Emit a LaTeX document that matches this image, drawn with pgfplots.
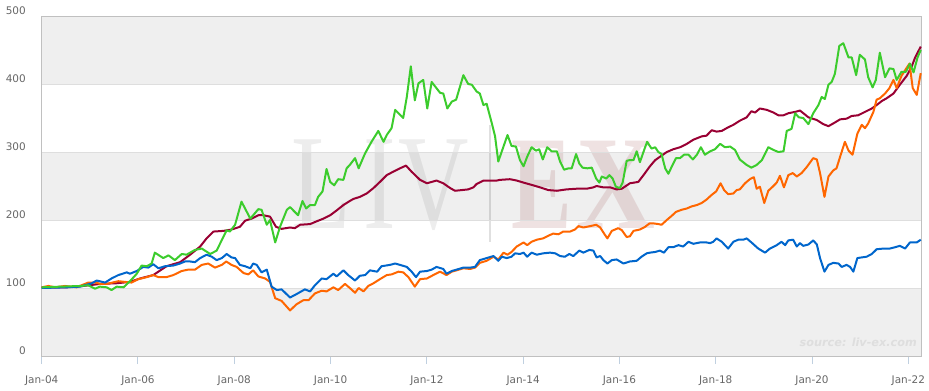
\documentclass[border=0pt]{standalone}
\usepackage{fontspec}
\setmainfont{DejaVu Sans}
\newfontfamily\wmfont{Liberation Serif}
\usepackage{pgfplots}
\pgfplotsset{compat=1.18}
\definecolor{cgreen}{RGB}{60,204,45}
\definecolor{cmaroon}{RGB}{153,0,51}
\definecolor{corange}{RGB}{255,102,0}
\definecolor{cblue}{RGB}{0,102,204}
\definecolor{band}{RGB}{239,239,239}
\definecolor{gridc}{RGB}{222,222,222}
\definecolor{axisc}{RGB}{192,192,192}
\definecolor{tickc}{RGB}{192,208,224}
\definecolor{labc}{RGB}{102,102,102}
\definecolor{wmred}{RGB}{150,60,60}
\begin{document}
\begin{tikzpicture}
\begin{scope}[x=1bp,y=1bp]
\path[use as bounding box] (-41.7,-34) rectangle (887.3,356);
\fill[band] (0,0) rectangle (880,68);
\fill[band] (0,136) rectangle (880,204);
\fill[band] (0,272) rectangle (880,340);
% watermark
\node[anchor=base west, inner sep=0pt, xscale=0.72, text=black, text opacity=0.07] at (250,128) {\fontsize{136}{136}\wmfont L};
\node[anchor=base west, inner sep=0pt, xscale=0.72, text=black, text opacity=0.07] at (322,128) {\fontsize{136}{136}\wmfont I};
\node[anchor=base west, inner sep=0pt, xscale=0.72, text=black, text opacity=0.07] at (357,128) {\fontsize{136}{136}\wmfont V};
\draw[black, opacity=0.12, line width=1.5] (448.3,231) -- (448.3,114);
\node[anchor=base west, inner sep=0pt, xscale=0.68, text=wmred, text opacity=0.15] at (470,128) {\fontsize{134}{134}\wmfont\bfseries E};
\node[anchor=base west, inner sep=0pt, xscale=0.82, text=wmred, text opacity=0.15] at (535,128) {\fontsize{134}{134}\wmfont\bfseries X};
\node[anchor=base east, inner sep=0pt, text={rgb,255:red,222;green,222;blue,222}] at (875.3,9.5) {\fontsize{11.3}{13}\selectfont\bfseries\itshape source: liv-ex.com};
\end{scope}
\begin{axis}[
  at={(0,0)}, anchor=south west,
  scale only axis, width=880bp, height=340bp,
  xmin=0, xmax=219.34, ymin=0, ymax=500,
  xtick={0,24,...,216},
  xticklabels={Jan-04,Jan-06,Jan-08,Jan-10,Jan-12,Jan-14,Jan-16,Jan-18,Jan-20,Jan-22},
  ytick={0,100,...,500},
  ymajorgrids, grid style={gridc, line width=1bp},
  axis line style={axisc, line width=1bp},
  xtick pos=bottom, xtick align=outside, major tick length=8bp,
  xtick style={tickc, line width=1bp},
  ytick style={draw=none},
  xticklabel style={font=\fontsize{10.5}{12}\selectfont, text=labc, anchor=base, inner sep=0pt, yshift=-19bp},
  yticklabel style={font=\fontsize{10.5}{12}\selectfont, text=labc, anchor=base east, inner sep=0pt, xshift=-15.7bp, yshift=1.5bp},
  /pgf/number format/assume math mode=true,
  clip=false,
]
\addplot[cmaroon, line width=2bp, line join=round] coordinates {
(0,101)(6.2,101)(10.4,103)(14.5,106)(18.7,107)(22.0,109)(24.5,114)(27.8,119)(31.1,132)(34.5,138)
(37.0,149)(39.5,161)(41.1,173)(42.8,183)(45.3,184)(47.3,186)(49.4,190)(50.7,199)(52.3,202)(54.0,207)(55.2,207)(56.9,205)(58.4,190)(59.8,187)(61.9,189)(63.1,188)(64.4,193)(66.9,194)(68.5,198)(70.2,202)(71.9,207)(73.5,214)(75.2,222)(76.8,228)
(77.7,231)(79.3,234)(81.0,239)(82.7,247)(84.3,256)(86.0,266)(87.6,271)(89.3,276)(90.8,280)(92.2,271)(94.3,259)(96.0,254)(97.2,256)(98.4,258)(100.1,254)(101.8,247)(103.0,243)(104.7,244)(106.3,245)(107.6,248)(108.4,253)(110.1,258)(113.4,258)
(114.2,259)(116.7,260)(118.4,258)(120.1,255)(122.5,251)(124.2,248)(126.3,244)(128.4,243)(130.8,245)(133.3,246)(135.8,246)(137.5,248)(138.3,250)(140.0,248)(141.7,248)(143.3,245)(144.6,246)(146.6,254)(148.7,256)(150.0,266)(151.6,279)
(152.9,288)(154.1,293)(155.8,300)(157.4,304)(159.1,307)(160.8,312)(162.4,318)(164.5,323)(165.7,324)(167.0,332)(168.2,330)(169.5,331)(170.7,335)(172.4,340)(174.0,346)(175.7,351)(176.9,360)(177.8,358)(179.0,364)(180.7,362)(182.4,358)(183.6,354)(184.9,354)(186.1,357)(187.8,359)(189.0,361)
(191.1,351)(193.2,347)(194.8,341)(196.1,338)(197.3,342)(199.0,348)(200.6,349)(201.9,353)(203.5,354)(205.2,359)(206.9,364)(208.1,369)(209.4,375)(210.6,379)(212.3,386)(213.9,399)(215.6,412)(216.8,425)(217.7,439)(219.1,455)
};
\addplot[corange, line width=2bp, line join=round] coordinates {
(0,101)(1.7,103)(3.3,101)(5.8,103)(8.7,101)(11.6,108)(13.7,108)(14.5,106)(16.2,106)(19.1,110)(22.4,108)(24.1,113)(26.2,116)(27.8,119)(29.1,116)(31.1,116)(32.8,119)(34.9,125)(36.5,127)
(38.2,127)(39.9,134)(41.5,136)(43.2,130)(44.9,134)(46.0,139)(47.3,134)(48.6,131)(50.3,122)(51.5,120)(52.7,126)(54.0,117)(55.7,114)(56.9,109)(58.2,85)(59.8,81)(61.9,67)(63.5,76)(65.2,82)(66.5,82)(68.1,92)(69.8,96)(71.0,95)(72.7,101)(73.9,97)(75.6,106)(76.8,100)
(78.1,93)(79.0,100)(80.2,95)(81.4,103)(82.7,107)(84.3,113)(86.0,119)(87.2,120)(88.9,124)(90.1,123)(91.4,116)(93.0,102)(94.3,113)(96.0,114)(97.6,119)(99.3,124)(100.9,119)(102.2,124)(103.4,126)(105.1,129)(106.8,128)(108.0,130)(109.2,137)(110.9,140)(112.6,146)
(113.8,142)(115.1,152)(116.1,149)(117.1,153)(118.4,161)(120.1,167)(121.0,163)(122.1,168)(123.4,171)(125.0,173)(126.7,178)(127.5,180)(128.8,179)(130.0,183)(131.7,183)(132.9,186)(133.8,191)(135.0,189)(136.7,191)(138.2,193)(139.2,189)(140.4,178)(141.0,173)(142.1,184)(143.7,188)(144.6,185)(145.8,175)(146.6,176)(147.5,184)(149.1,186)(150.4,190)(151.5,195)
(152.5,195)(153.7,194)(154.5,193)(155.8,200)(157.0,206)(158.1,212)(159.5,215)(160.8,217)(162.0,220)(163.3,222)(164.5,225)(165.7,230)(167.0,237)(168.1,242)(169.2,254)(170.1,244)(171.1,238)(172.4,239)(173.2,244)(174.0,245)(175.3,254)(176.5,260)(177.5,263)(178.2,246)(179.0,249)(180.1,225)(181.1,243)(182.2,249)(183.2,255)(184.0,265)(185.0,248)(186.1,266)(187.2,269)(188.2,264)(189.4,269)
(190.7,278)(192.3,291)(193.2,289)(194.0,269)(195.1,234)(196.1,264)(197.3,273)(198.1,276)(199.0,293)(200.2,315)(201.1,302)(202.1,296)(203.3,327)(204.4,340)(205.2,335)(206.0,342)(207.3,359)(208.1,377)(208.9,379)(210.2,386)(211.3,394)(212.3,406)(213.1,394)(214.3,412)(215.4,422)(216.3,430)(217.1,394)(218.1,384)(219.1,416)
};
\addplot[cblue, line width=2bp, line join=round] coordinates {
(0,100)(6.2,101)(9.6,102)(12.5,107)(13.7,111)(15.8,108)(17.4,114)(19.1,119)(21.2,123)(22.0,121)(23.7,125)(25.3,131)(26.6,130)(27.8,135)(29.1,129)(30.7,132)(32.8,133)(34.5,136)(35.7,139)
(37.0,139)(38.2,138)(39.5,144)(41.1,149)(42.4,146)(43.6,141)(44.9,144)(46.1,150)(47.3,145)(48.2,144)(49.4,134)(50.7,132)(52.0,129)(52.7,136)(53.6,134)(54.8,123)(56.1,127)(57.3,102)(58.6,97)(59.8,98)(61.9,86)(63.5,91)(65.6,98)(66.9,95)(68.1,104)(69.8,114)(71.0,113)(72.7,121)(73.5,117)(75.2,126)(76.4,119)
(78.1,111)(79.3,118)(80.6,119)(81.8,126)(83.6,124)(84.7,132)(86.8,134)(88.1,136)(89.3,134)(91.0,131)(92.2,124)(93.3,116)(94.3,124)(96.0,125)(97.2,127)(98.4,131)(100.1,128)(100.9,121)(102.2,125)(103.4,127)(105.1,130)(106.8,130)(108.0,131)(109.2,141)(110.9,144)(112.6,147)
(113.8,140)(114.7,146)(115.9,144)(117.1,146)(118.0,151)(119.2,150)(120.1,152)(121.0,146)(122.1,152)(123.4,149)(125.0,151)(126.7,152)(128.0,151)(129.2,147)(130.4,146)(131.5,150)(132.5,147)(134.0,155)(135.0,152)(136.5,156)(137.5,155)(138.3,145)(139.2,147)(140.0,141)(141.0,136)(142.1,141)(143.3,142)(145.0,136)(146.6,139)(148.3,140)(149.5,146)(150.8,151)
(151.6,152)(152.9,153)(154.1,155)(155.1,152)(156.2,160)(157.4,160)(158.7,163)(159.9,161)(161.2,168)(162.4,165)(164.1,167)(165.7,167)(166.6,166)(167.4,168)(168.2,173)(169.5,168)(171.1,158)(172.4,168)(173.6,171)(174.9,171)(175.7,173)(176.9,167)(178.6,158)(180.3,152)(181.5,158)(183.2,163)(184.4,168)(185.3,163)(186.1,170)(187.3,171)(188.2,161)(189.0,166)
(189.8,162)(191.1,164)(192.3,170)(193.2,164)(194.0,144)(195.1,124)(196.1,134)(197.3,137)(198.6,136)(199.4,131)(200.6,134)(201.5,131)(202.3,124)(203.3,144)(204.4,145)(205.6,146)(206.9,150)(208.1,157)(209.8,158)(211.4,158)(212.7,160)(213.9,162)(215.2,158)(216.4,167)(218.1,167)(219.1,171)
};
\addplot[cgreen, line width=2bp, line join=round] coordinates {
(0,101)(9.6,103)(11.6,104)(13.3,99)(14.5,102)(16.2,101)(17.4,97)(18.7,102)(20.4,101)(22.0,110)(23.7,121)(24.9,133)(26.2,132)(27.4,136)(28.2,152)(30.3,144)(31.6,148)(33.2,141)(34.9,150)(36.1,149)
(38.2,156)(39.9,158)(42.0,150)(43.6,155)(46.1,185)(46.9,183)(48.2,193)(49.8,227)(52.0,202)(54.0,216)(54.8,215)(56.1,193)(56.9,200)(58.2,167)(59.4,190)(61.1,215)(61.9,219)(63.9,207)(65.0,228)(65.9,217)(66.9,222)(68.1,222)(68.9,234)(70.0,242)(71.0,275)(71.9,256)(72.9,251)(73.9,260)(75.2,259)(76.0,276)(76.8,281)
(78.1,291)(79.0,276)(80.6,298)(82.2,315)(83.9,331)(85.2,315)(86.0,325)(87.2,335)(88.1,362)(90.1,350)(91.0,381)(92.0,426)(93.0,376)(93.9,401)(95.1,406)(96.1,364)(97.2,403)(99.3,387)(100.1,386)(101.1,364)(102.2,374)(103.3,377)(105.1,413)(106.3,400)(107.2,399)(108.4,389)(109.2,386)(110.1,369)(110.9,371)(112.2,342)(113.0,323)(113.8,286)
(115.1,308)(116.1,325)(117.1,309)(118.2,308)(119.2,288)(120.1,279)(121.0,293)(122.1,307)(123.2,302)(124.0,304)(124.9,289)(126.0,307)(127.1,301)(128.4,301)(129.2,286)(130.2,274)(131.3,276)(132.1,276)(133.2,297)(134.0,283)(134.8,277)(136.0,276)(137.1,277)(138.2,261)(139.0,255)(139.6,264)(140.7,261)(141.5,266)(142.3,261)(143.1,249)(144.1,247)(144.8,255)(145.8,287)(146.5,288)(147.5,288)(148.3,301)(149.1,285)(150.4,307)(150.9,315)
(152.0,305)(152.9,307)(153.7,300)(154.5,297)(155.4,276)(156.2,268)(157.0,278)(158.1,291)(159.1,291)(160.1,296)(161.2,296)(162.3,289)(163.3,296)(164.3,307)(165.3,296)(166.6,301)(167.8,304)(169.1,312)(170.3,307)(171.6,308)(172.8,303)(174.0,289)(175.7,281)(176.9,277)(178.2,281)(179.5,288)(181.1,307)(182.4,303)(183.6,300)(184.9,301)(185.7,331)(186.9,334)(187.8,357)(188.7,351)
(189.8,350)(191.1,341)(192.3,357)(193.6,369)(194.4,381)(195.2,378)(196.1,399)(196.9,403)(197.7,415)(198.8,456)(199.8,460)(201.1,439)(201.9,439)(203.0,413)(203.9,443)(205.2,436)(206.0,410)(207.1,395)(207.9,406)(208.9,446)(210.2,410)(211.3,423)(212.3,422)(213.1,406)(214.3,418)(215.4,418)(216.4,430)(217.3,417)(218.3,439)(219.1,450)
};
\end{axis}
\end{tikzpicture}
\end{document}
